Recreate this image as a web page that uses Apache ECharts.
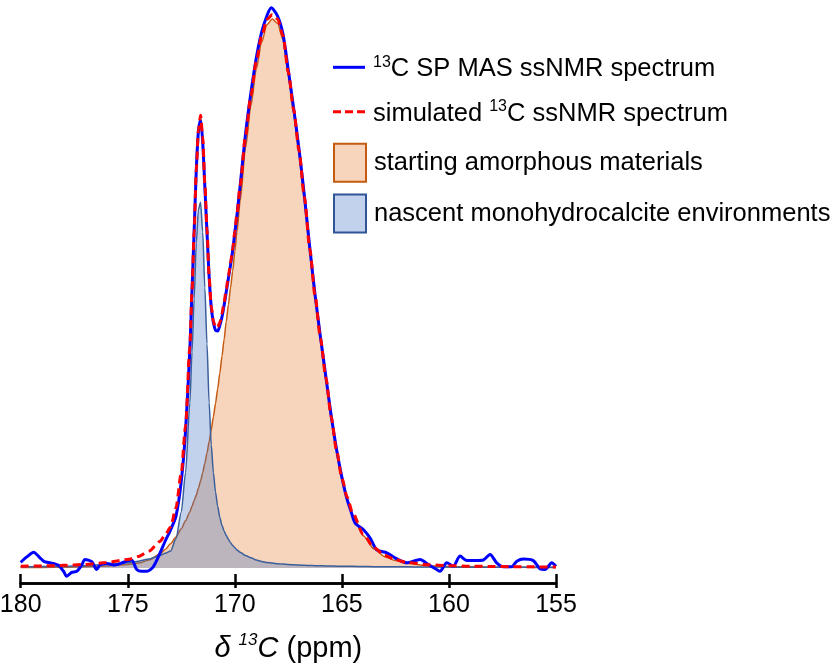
<!DOCTYPE html>
<html>
<head>
<meta charset="utf-8">
<script src="https://cdn.jsdelivr.net/npm/echarts@6/dist/echarts.min.js"></script>
<style>
  html, body { margin: 0; padding: 0; background: #ffffff; }
  #chart { width: 840px; height: 670px; }
</style>
</head>
<body>
<div id="chart"></div>
<script>
// ---- Data ----
// chemical shift grid (ppm) for the fitted / simulated curves
var ppmModel = [180, 179, 178, 177, 176, 175, 174.5, 174, 173.5, 173.25, 173, 172.75, 172.5, 172.3, 172.1, 172.0,
  171.9, 171.8, 171.7, 171.6, 171.5, 171.4, 171.3, 171.2, 171.1, 171.0, 170.9, 170.8, 170.7, 170.6, 170.5, 170.4,
  170.3, 170.2, 170.1, 170.0, 169.9, 169.75, 169.5, 169.25, 169.0, 168.75, 168.5, 168.25, 168.0, 167.75, 167.5,
  167.25, 167.0, 166.75, 166.5, 166.25, 166.0, 165.75, 165.5, 165.25, 165.0, 164.75, 164.5, 164.0, 163.5, 163.0,
  162.5, 162.0, 161, 160, 159, 158, 157, 156, 155];
// simulated 13C ssNMR spectrum (sum of fitted components)
var simulated = [0.3, 0.35, 0.45, 0.6, 0.95, 1.5, 2.05, 3.0, 4.7, 5.9, 7.3, 10.7, 17.0, 25.4, 39.5, 49.5,
  60, 71, 78.2, 80.8, 77, 68.7, 60.5, 52, 46.7, 44.0, 42.9, 43.0, 43.8, 45.4, 47.4, 49.8,
  52.1, 54.5, 57, 60.1, 63.2, 68.3, 77.2, 84.3, 90.4, 94.9, 97.9, 98.8, 98.0, 95.0, 88.5,
  81.8, 74.5, 66.2, 57.0, 48.5, 41.0, 34.0, 27.0, 21.0, 16.0, 12.6, 9.8, 6.0, 3.6, 2.2,
  1.5, 1.0, 0.55, 0.4, 0.3, 0.25, 0.2, 0.18, 0.15];
// starting amorphous materials component
var amorphous = [0.05, 0.08, 0.12, 0.2, 0.35, 0.6, 0.85, 1.4, 2.5, 3.3, 4.3, 5.5, 7.0, 8.4, 10.0, 11.0,
  12.0, 13.0, 14.2, 15.5, 17.0, 18.7, 20.5, 22.5, 24.7, 27.0, 29.4, 32.0, 34.8, 37.8, 40.8, 44.0,
  47.0, 50.0, 53.0, 56.5, 60.0, 65.5, 75.0, 82.5, 89.0, 93.8, 97.0, 98.0, 97.2, 94.3, 87.9,
  81.2, 74.0, 65.7, 56.6, 48.1, 40.6, 33.65, 26.7, 20.7, 15.7, 12.3, 9.5, 5.75, 3.4, 2.0,
  1.3, 0.82, 0.4, 0.26, 0.18, 0.15, 0.1, 0.08, 0.05];
// nascent monohydrocalcite environments component
var monohydro = [0.2, 0.25, 0.3, 0.4, 0.6, 0.9, 1.2, 1.6, 2.2, 2.6, 3.0, 5.2, 10, 17, 29.5, 38.5,
  48, 58, 64, 65.3, 60, 50, 40, 29.5, 22, 17, 13.5, 11, 9, 7.6, 6.6, 5.8,
  5.1, 4.5, 4.0, 3.6, 3.2, 2.8, 2.2, 1.8, 1.4, 1.15, 0.95, 0.85, 0.75, 0.68, 0.6,
  0.55, 0.5, 0.46, 0.42, 0.4, 0.37, 0.35, 0.33, 0.31, 0.3, 0.29, 0.27, 0.25, 0.22, 0.2,
  0.19, 0.18, 0.16, 0.14, 0.12, 0.1, 0.1, 0.1, 0.1];
// 13C SP MAS ssNMR spectrum (experimental)
var ppmExp = [180, 179.7, 179.4, 179.1, 178.9, 178.6, 178.25, 178.0, 177.85, 177.62, 177.38, 177.15, 177.0,
  176.68, 176.45, 176.3, 175.98, 175.6, 175.13, 174.82, 174.58, 174.35, 174.1, 173.81, 173.5, 173.25, 173.0,
  172.75, 172.5, 172.3, 172.1, 172.0, 171.9, 171.8, 171.7, 171.6, 171.5, 171.4, 171.3, 171.2, 171.1, 171.0,
  170.9, 170.8, 170.7, 170.6, 170.5, 170.4, 170.3, 170.2, 170.1, 170.0, 169.9, 169.75, 169.5, 169.25, 169.0,
  168.75, 168.5, 168.3, 168.0,
  167.75, 167.5, 167.25, 167.0, 166.75, 166.5, 166.25, 166.0, 165.75, 165.5, 165.25, 165.0, 164.77, 164.55,
  164.38, 163.99, 163.68, 163.37, 162.9, 162.52, 161.97, 161.35, 160.96, 160.57, 160.42, 160.1, 159.8, 159.48,
  159.17, 158.78, 158.39, 158.08, 157.77, 157.46, 157.07, 156.83, 156.52, 156.06, 155.74, 155.51, 155.2, 155.0];
var experimental = [1.0, 2.0, 2.8, 1.8, 1.1, 0.9, 0.5, -0.6, -1.5, -0.8, -0.6, 0.5, 1.5,
  1.1, -0.3, 0.5, 0.8, 0.5, 1.1, 1.4, -0.3, -0.6, -0.6, 0.2, 2.6, 4.8, 6.8,
  9.2, 15.5, 24.5, 39, 49.5, 60, 71, 78, 80, 76, 68, 60, 52, 46.5, 43.8,
  42.4, 42.3, 43.3, 44.8, 46.9, 49.3, 51.7, 54.1, 56.7, 59.8, 63, 68.3, 77.5, 84.8, 91,
  95.6, 98.6, 100, 98.5,
  95.3, 88.8, 82, 74.7, 66.4, 57.2, 48.7, 41.2, 34.2, 27.2, 21.2, 16.2, 12.4, 9.8,
  8.0, 6.8, 5.3, 3.2, 2.7, 1.8, 0.9, 1.5, 0.6, -0.3, -0.6, 0.9, 0.3, 2.1,
  1.3, 1.3, 1.4, 2.4, 0.9, 0.2, 0.2, 1.2, 1.6, 1.3, -0.2, -0.3, 0.9, 0.3];
// axis ticks
var xTicks = [155, 160, 165, 170, 175, 180];

var seriesLabels = {
  exp: '{sup|13}C SP MAS ssNMR spectrum',
  sim: 'simulated {sup|13}C ssNMR spectrum',
  amorph: 'starting amorphous materials',
  mhc: 'nascent monohydrocalcite environments'
};

function zip(xs, ys) { return xs.map(function (x, i) { return [x, ys[i]]; }); }

var FONT = '"Liberation Sans", Arial, sans-serif';
var chart = echarts.init(document.getElementById('chart'), null, { renderer: 'canvas', width: 840, height: 670 });

function legendText(padTop) {
  return {
    color: '#000',
    fontFamily: FONT,
    fontSize: 25.5,
    lineHeight: 30,
    padding: [padTop, 0, 0, 3],
    rich: {
      sup: { fontSize: 16, lineHeight: 16, verticalAlign: 'top', fontFamily: FONT, color: '#000' }
    }
  };
}

var option = {
  backgroundColor: '#ffffff',
  animation: false,
  grid: { left: 20.7, right: 284, top: 0, bottom: 87, containLabel: false, outerBoundsMode: 'none' },
  xAxis: [{
    type: 'value',
    min: xTicks[0], max: xTicks[xTicks.length - 1], interval: 5, inverse: true,
    position: 'bottom',
    axisLine: { onZero: false, lineStyle: { color: '#000', width: 2.5 } },
    axisTick: { show: true, inside: false, length: 5, lineStyle: { color: '#000', width: 2.5 } },
    axisLabel: { color: '#000', fontSize: 25, fontFamily: FONT, margin: 10 },
    splitLine: { show: false },
    name: '{i|δ }{sup|13}{i|C} (ppm)',
    nameLocation: 'middle',
    nameGap: 49,
    nameTextStyle: {
      color: '#000', fontSize: 29, fontFamily: FONT, lineHeight: 34,
      rich: {
        i: { fontStyle: 'italic', fontSize: 29, fontFamily: FONT, color: '#000', lineHeight: 34 },
        sup: { fontStyle: 'italic', fontSize: 17, fontFamily: FONT, color: '#000', lineHeight: 20, verticalAlign: 'top' }
      }
    }
  }, {
    type: 'value',
    min: xTicks[0], max: xTicks[xTicks.length - 1], interval: 5, inverse: true,
    position: 'bottom',
    axisLine: { onZero: false, lineStyle: { color: '#000', width: 2.5 } },
    axisTick: { show: true, inside: true, length: 9, lineStyle: { color: '#000', width: 2.5 } },
    axisLabel: { show: false },
    splitLine: { show: false }
  }],
  yAxis: {
    type: 'value', min: -2.7, max: 101.4, show: false, splitLine: { show: false }
  },
  legend: [{
    orient: 'vertical', left: 333, top: 50.3, padding: 0, itemWidth: 32, itemHeight: 3, itemGap: 10.4,
    data: [
      { name: 'exp', icon: 'path://M0,0h32v3h-32z', itemStyle: { color: '#0000ff' } },
      { name: 'sim', icon: 'path://M0,0h8v3h-8z M12,0h8v3h-8z M24,0h8v3h-8z', itemStyle: { color: '#ff0000' } }
    ],
    formatter: function (n) { return seriesLabels[n]; },
    textStyle: legendText(4)
  }, {
    orient: 'vertical', left: 333, top: 142.7, padding: 0, itemWidth: 32, itemHeight: 38, itemGap: 10.8,
    data: [
      { name: 'amorph', icon: 'rect', itemStyle: { color: '#f7d4bc', borderColor: '#c55a11', borderWidth: 2 } },
      { name: 'mhc', icon: 'rect', itemStyle: { color: 'rgba(68,114,196,0.32)', borderColor: '#2f5597', borderWidth: 2 } }
    ],
    formatter: function (n) { return seriesLabels[n]; },
    textStyle: legendText(0)
  }],
  series: [{
    name: 'amorph', type: 'line', xAxisIndex: 0,
    data: zip(ppmModel, amorphous),
    symbol: 'none', showSymbol: false, smooth: 0.25, smoothMonotone: 'x',
    lineStyle: { color: '#c55a11', width: 1.5 },
    itemStyle: { color: '#f7d4bc' },
    areaStyle: { color: '#f7d4bc', opacity: 1 },
    z: 1
  }, {
    name: 'mhc', type: 'line', xAxisIndex: 0,
    data: zip(ppmModel, monohydro),
    symbol: 'none', showSymbol: false, smooth: 0.25, smoothMonotone: 'x',
    lineStyle: { color: '#3a5f9a', width: 1.5 },
    itemStyle: { color: '#c5d3ea' },
    areaStyle: { color: 'rgba(68,114,196,0.32)', opacity: 1 },
    z: 2
  }, {
    name: 'exp', type: 'line', xAxisIndex: 0,
    data: zip(ppmExp, experimental),
    symbol: 'none', showSymbol: false, smooth: 0.25,
    lineStyle: { color: '#0000ff', width: 3 },
    itemStyle: { color: '#0000ff' },
    z: 3
  }, {
    name: 'sim', type: 'line', xAxisIndex: 0,
    data: zip(ppmModel, simulated),
    symbol: 'none', showSymbol: false, smooth: 0.25, smoothMonotone: 'x',
    lineStyle: { color: '#ff0000', width: 3, type: [8, 5] },
    itemStyle: { color: '#ff0000' },
    z: 4
  }]
};
chart.setOption(option);
</script>
</body>
</html>
